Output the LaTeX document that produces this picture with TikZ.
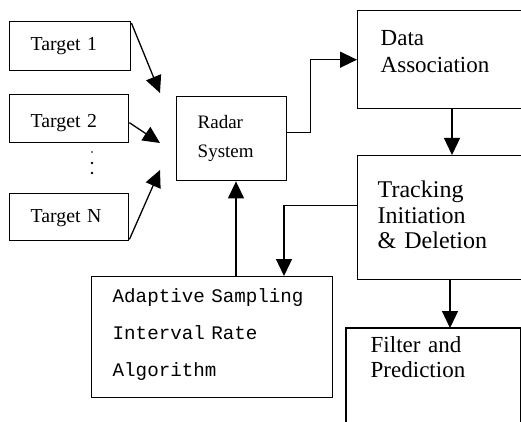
\documentclass[tikz,border=0pt]{standalone}
\usepackage{fontspec}
\setmainfont{Liberation Serif}
\newfontfamily\algofont{Liberation Mono}
\usetikzlibrary{arrows.meta}
\tikzset{
  box/.style={draw, line width=1.4pt, align=left, anchor=north west,
    inner ysep=0pt, inner xsep=#1},
  box/.default=21pt,
  tgtfont/.style={font=\fontsize{19.8}{29}\selectfont},
  bigfont/.style={font=\fontsize{23}{27}\selectfont},
  flow/.style={line width=1.3pt, -{Triangle[length=17pt,width=16pt]}},
  dot/.style={circle, fill, inner sep=0pt, minimum size=2.6pt},
}
\begin{document}
\begin{tikzpicture}[x=1pt,y=-1pt]
\useasboundingbox (0,0) rectangle (521,422);

% targets
\node[box, tgtfont, text width=79pt, minimum height=49pt,
      text height=9pt, text depth=0pt] (t1) at (9,21) {Target 1};
\node[box, tgtfont, text width=77pt, minimum height=48pt,
      text height=18pt, text depth=0pt] (t2) at (9,94) {Target 2};
\node[box, tgtfont, text width=77pt, minimum height=47pt,
      text height=11pt, text depth=0pt] (tn) at (9,193) {Target N};

% vertical ellipsis between Target 2 and Target N
\node[dot, minimum size=1.8pt] (dotA) at (92,152) {};
\node[dot] (dotB) at (92,163) {};
\node[dot] (dotC) at (92,173) {};

% processing chain
\node[box, font=\fontsize{19}{29}\selectfont, text width=68pt, minimum height=84pt,
      text height=0pt, text depth=20pt] (radar) at (176,96) {Radar\\System};
\node[box=23pt, bigfont, text width=121pt, minimum height=98pt,
      text height=0pt, text depth=28pt] (data) at (357,10) {Data\\Association};
\node[box=20pt, font=\fontsize{24}{25.5}\selectfont, text width=127pt,
      minimum height=124pt, text height=0pt, text depth=40pt]
      (tracking) at (357,155) {Tracking\\Initiation\\\& Deletion};
\node[box, font=\algofont\fontsize{19.2}{37}\selectfont, text width=199pt,
      minimum height=121pt, text height=0pt, text depth=69pt]
      (adaptive) at (91,276) {Adaptive Sampling\\Interval Rate\\Algorithm};
\node[box=24pt, draw=none, font=\fontsize{23}{25}\selectfont, text width=125pt,
      minimum height=94pt, text height=0pt, text depth=46pt]
      (filter) at (346,328) {Filter and\\Prediction};
\draw[line width=1.4pt] ([yshift=-10pt]filter.south west) -- (filter.north west)
  -- (filter.north east) -- ([yshift=-10pt]filter.south east);

% arrow ends short of the radar box
\coordinate (tip1) at (160,93);
\coordinate (tip2) at (160,143);
\coordinate (tipn) at (160,170);

\draw[flow] ([yshift=-2pt]t1.north east) -- (tip1);
\draw[flow] ([yshift=-4pt]t2.east) -- (tip2);
\draw[flow] ([yshift=2pt]tn.south east) -- (tipn);

\draw[flow] ([yshift=6pt]radar.east) -- ++(23,0) |- (data.west);
\draw[flow] (data.south -| 452,0) -- (tracking.north -| 452,0);
\draw[flow] (tracking.south -| 450,0) -- (filter.north -| 450,0);
\draw[flow] ([yshift=12pt]tracking.west) -| (adaptive.north -| 284,0);
\draw[flow] (adaptive.north -| 236,0) -- (radar.south -| 236,0);
\end{tikzpicture}
\end{document}
